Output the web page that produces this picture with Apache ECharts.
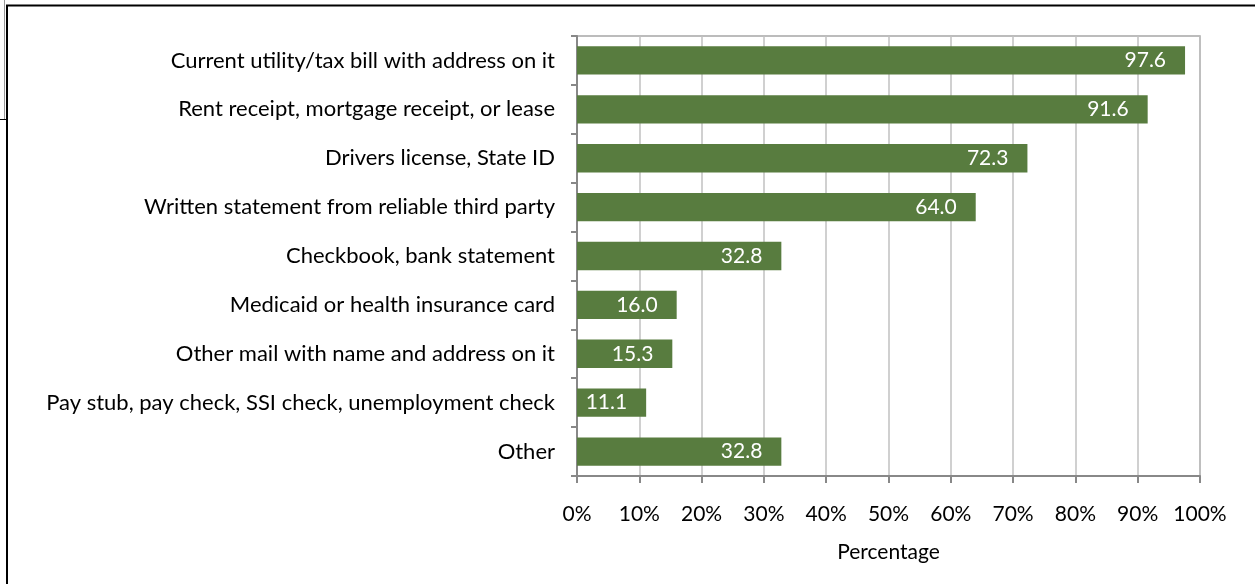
<!DOCTYPE html>
<html>
<head>
<meta charset="utf-8">
<script src="https://cdn.jsdelivr.net/npm/echarts@6/dist/echarts.min.js"></script>
<style>
  html, body { margin: 0; padding: 0; background: #fff; }
  #graph { width: 1255px; height: 584px; }
</style>
</head>
<body>
<div id="graph"></div>
<script>
"use strict"

const categories = [
    "Current utility/tax bill with address on it",
    "Rent receipt, mortgage receipt, or lease",
    "Drivers license, State ID",
    "Written statement from reliable third party",
    "Checkbook, bank statement",
    "Medicaid or health insurance card",
    "Other mail with name and address on it",
    "Pay stub, pay check, SSI check, unemployment check",
    "Other"
];
const values = [97.6, 91.6, 72.3, 64.0, 32.8, 16.0, 15.3, 11.1, 32.8];
const xTicks = [0, 10, 20, 30, 40, 50, 60, 70, 80, 90, 100];

const font = "Lato, 'Open Sans', sans-serif";
const axisGrey = "#888888";

const myChart = echarts.init(document.getElementById("graph"), null, { renderer: "canvas" });

const option = {
    animation: false,
    backgroundColor: "#ffffff",
    grid: {
        left: 577, right: 55, top: 36, bottom: 108,
        show: true, borderColor: "#a6a6a6", borderWidth: 1.5
    },
    xAxis: {
        type: "value",
        min: xTicks[0], max: xTicks[xTicks.length - 1], interval: 10,
        name: "Percentage",
        nameLocation: "middle",
        nameGap: 66,
        nameTextStyle: { fontFamily: font, fontSize: 21, color: "#000" },
        axisLine: { show: true, lineStyle: { color: axisGrey, width: 2 } },
        axisTick: { show: true, length: 7, lineStyle: { color: axisGrey, width: 2 } },
        axisLabel: { formatter: v => v + "%", fontFamily: font, fontSize: 21, color: "#000", margin: 28 },
        splitLine: { show: true, lineStyle: { color: "#c0c0c0", width: 1.5 } }
    },
    yAxis: {
        type: "category",
        data: categories,
        inverse: true,
        axisLine: { show: true, lineStyle: { color: axisGrey, width: 2 } },
        axisTick: { show: true, length: 6, lineStyle: { color: axisGrey, width: 2 } },
        axisLabel: { fontFamily: font, fontSize: 22, color: "#000", margin: 22 },
        splitLine: { show: false }
    },
    series: [{
        type: "bar",
        data: values,
        barWidth: "58%",
        itemStyle: { color: "#587c3f" },
        label: {
            show: true,
            position: "insideRight",
            distance: 19,
            formatter: p => p.value.toFixed(1),
            color: "#fff",
            fontFamily: font,
            fontSize: 21
        }
    }],
    graphic: [
        { type: "line", shape: { x1: 6, y1: 5.5, x2: 1255, y2: 5.5 }, style: { stroke: "#000", lineWidth: 2 } },
        { type: "line", shape: { x1: 7, y1: 5, x2: 7, y2: 584 }, style: { stroke: "#000", lineWidth: 2 } },
        { type: "line", shape: { x1: 4.5, y1: 0, x2: 4.5, y2: 119 }, style: { stroke: "#999", lineWidth: 1 } },
        { type: "line", shape: { x1: 0, y1: 119.5, x2: 7, y2: 119.5 }, style: { stroke: "#000", lineWidth: 1 } }
    ]
};
myChart.setOption(option);
</script>
</body>
</html>
